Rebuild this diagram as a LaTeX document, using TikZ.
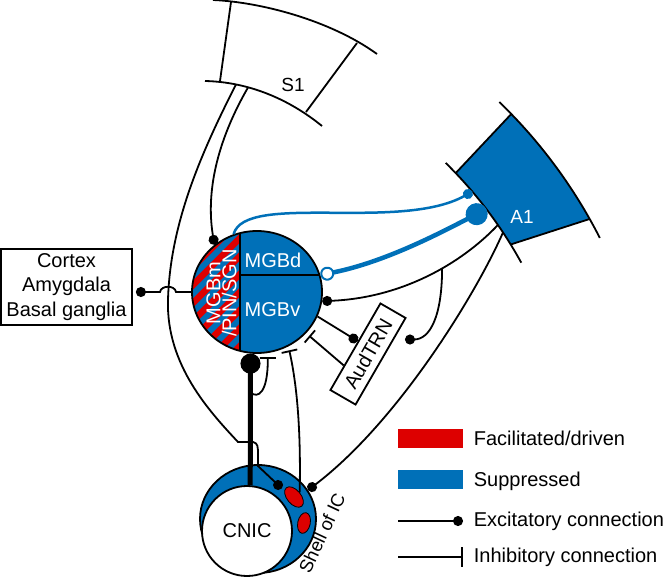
\documentclass[tikz,border=0pt]{standalone}
\usepackage{fontspec}
\setmainfont{Liberation Sans}
\usetikzlibrary{calc, positioning, arrows.meta, shapes.geometric}

\definecolor{tblue}{RGB}{0,112,184}
\definecolor{tred}{RGB}{221,0,0}

\begin{document}
\begin{tikzpicture}[
    x=1pt, y=-1pt,
    line width=1.8pt,
    font=\fontsize{20}{24.5}\selectfont,
    exc/.style={-{Circle[length=10pt]}},
    inh/.style={-{Bar[width=16pt]}, shorten >=4pt},
    lbl/.style={inner sep=0pt},
    small/.style={font=\fontsize{19}{22}\selectfont},
    blob/.style={draw, ellipse, fill=tred, line width=0.8pt, inner sep=0pt},
    keybox/.style={minimum width=65pt, minimum height=19pt, inner sep=0pt},
]
\useasboundingbox (0,0) rectangle (666,576);

% S1
\draw (213,0) .. controls (260,2) and (330,20) .. (377,54);
\draw (205,81) .. controls (250,82) and (290,100) .. (322,126);
\draw (231,2) -- (220,81);
\draw (357,43) -- (306,112);
\node[lbl, small] (s1) at (293,84.5) {S1};
\coordinate (s1a) at (236,84.5);
\coordinate (s1b) at (248,87.5);

% A1
\coordinate (a1c) at (143.6,470.3);
\fill[tblue] ($(a1c)+(-43.6:431)$) -- ($(a1c)+(-44.1:512)$)
    arc[start angle=-44.1, end angle=-29.4, radius=512]
    -- ($(a1c)+(-31.6:431)$) arc[start angle=-31.6, end angle=-43.6, radius=431] -- cycle;
\draw ($(a1c)+(-45.5:431)$) arc[start angle=-45.5, end angle=-28.8, radius=431];
\draw ($(a1c)+(-46:512)$) arc[start angle=-46, end angle=-27, radius=512];
\draw ($(a1c)+(-43.6:431)$) -- ($(a1c)+(-44.1:512)$);
\draw ($(a1c)+(-31.6:431)$) -- ($(a1c)+(-29.4:512)$);
\node[lbl, small, white] (a1) at (522,217) {A1};
\coordinate (a1thin) at ($(a1c)+(-40.3:431)$);
\coordinate (a1thick) at ($(a1c)+(-37.3:431)$);
\coordinate (a1L1) at ($(a1c)+(-34.7:431)$);
\coordinate (a1L2) at ($(a1c)+(-33.5:431)$);

% Inferior colliculus
\node[draw, ellipse, fill=tblue, minimum width=116pt, minimum height=108pt, inner sep=0pt] (shell) at (258,519) {};
\node[draw, circle, fill=white, minimum size=90pt, inner sep=0pt] (cnic) at (247,531) {CNIC};
\node[blob, minimum width=24pt, minimum height=14pt, rotate=-50] (e1) at (294,497) {};
\node[blob, minimum width=21pt, minimum height=12.5pt, rotate=78] (e2) at (304,523) {};
\node[lbl, rotate=65, font=\fontsize{18.5}{22}\selectfont] (shl) at (322,533) {Shell of IC};
\coordinate (shA) at (281.7,488.4);

% MGB
\begin{scope}
    \clip (257,292) ellipse [x radius=65, y radius=61];
    \fill[tblue] (190,225) rectangle (330,360);
    \clip (190,225) rectangle (240,360);
    \foreach \k in {0,...,11}
        \draw[tred, line width=6.5pt] (150,{256+18*\k}) -- ++(120,-120);
\end{scope}
\node[draw, ellipse, minimum width=130pt, minimum height=122pt, inner sep=0pt] (mgb) at (257,292) {};
\begin{scope}
    \clip (257,292) ellipse [x radius=65, y radius=61];
    \draw (240,220) -- (240,360) (240,275) -- (330,275);
\end{scope}
\node[lbl, white] (mgbd) at (273,260) {MGBd};
\node[lbl, white] (mgbv) at (272.5,310) {MGBv};
\node[lbl, white, rotate=90, align=center, font=\fontsize{20}{16}\selectfont] (mgbm) at (221.5,293) {MGBm\\/PIN/SGN};

% Boxes
\node[draw, align=center, minimum width=131pt, minimum height=76pt, inner sep=0pt] (ctx) at (66.5,287) {Cortex\\Amygdala\\Basal ganglia};
\node[draw, fill=white, rotate=60, minimum width=100pt, minimum height=29pt, inner sep=0pt] (trn) at (368,354) {AudTRN};
\coordinate (trnR) at (405,339.5);

% Connections
\draw[exc] (s1a) .. controls (200,155) and (170,225) .. (168,300)
    .. controls (166,365) and (210,412) .. (238,442) -- (253,442)
    .. controls (258,443) and (258,447) .. (258,455) -- (258,466) -- (shA);
\draw[exc] (s1b) .. controls (212,150) and (207,200) .. (mgb.132);
\draw[exc, shorten >=3pt] (mgb.west) -- (176,292) .. controls (175,285) and (161,285) .. (160,292) -- (ctx.east |- mgb.west);
\draw[tblue, line width=2.5pt, -{Circle[length=10pt]}] (mgb.112) .. controls (245,192) and (400,232) .. (a1thin);
\draw[tblue, line width=4.5pt, {Circle[length=14pt, fill=white, line width=2pt]}-{Circle[length=22pt]}]
    (mgb.15) .. controls (385,262) and (440,233) .. (a1thick);
\draw[exc] (a1L1) .. controls (460,265) and (400,298) .. (mgb.-8) coordinate[pos=0.4] (trnbr);
\draw[exc] (trnbr) .. controls +(0,48) and +(25,0) .. (trnR);
\draw[exc] (a1L2) .. controls (478,290) and (400,420) .. (shell.30);
\draw[exc] (mgb.-22) -- ($(trn.north)!6pt!(trn.north east)$);
\draw[inh] ($(trn.north)!22pt!(trn.north west)$) -- (mgb.-40);
\draw[inh] (e1.north) .. controls (301,430) and (297,385) .. (mgb.-60);
\draw[line width=5pt, -{Circle[length=20pt]}] (cnic.86) -- (mgb.-96) coordinate[pos=0.705] (cnicbr);
\draw[inh] (cnicbr) .. controls (258,399) and (268,393) .. (mgb.-80);

% Legend
\node[keybox, fill=tred] (kred) at (430.5,438.5) {};
\node[lbl, anchor=base west] (tred) at (473,445) {Facilitated/driven};
\node[keybox, fill=tblue] (kblue) at (430.5,479) {};
\node[lbl, anchor=base west] (tblue) at (473,486) {Suppressed};
\coordinate (kexcA) at (398,521);
\coordinate (kexcB) at (463,521);
\draw[exc] (kexcA) -- (kexcB);
\node[lbl, anchor=base west] (texc) at (473,526) {Excitatory connection};
\coordinate (kinhA) at (398,557);
\coordinate (kinhB) at (463,557);
\draw[-{Bar[width=20pt]}] (kinhA) -- (kinhB);
\node[lbl, anchor=base west] (tinh) at (473,562) {Inhibitory connection};

\end{tikzpicture}
\end{document}
